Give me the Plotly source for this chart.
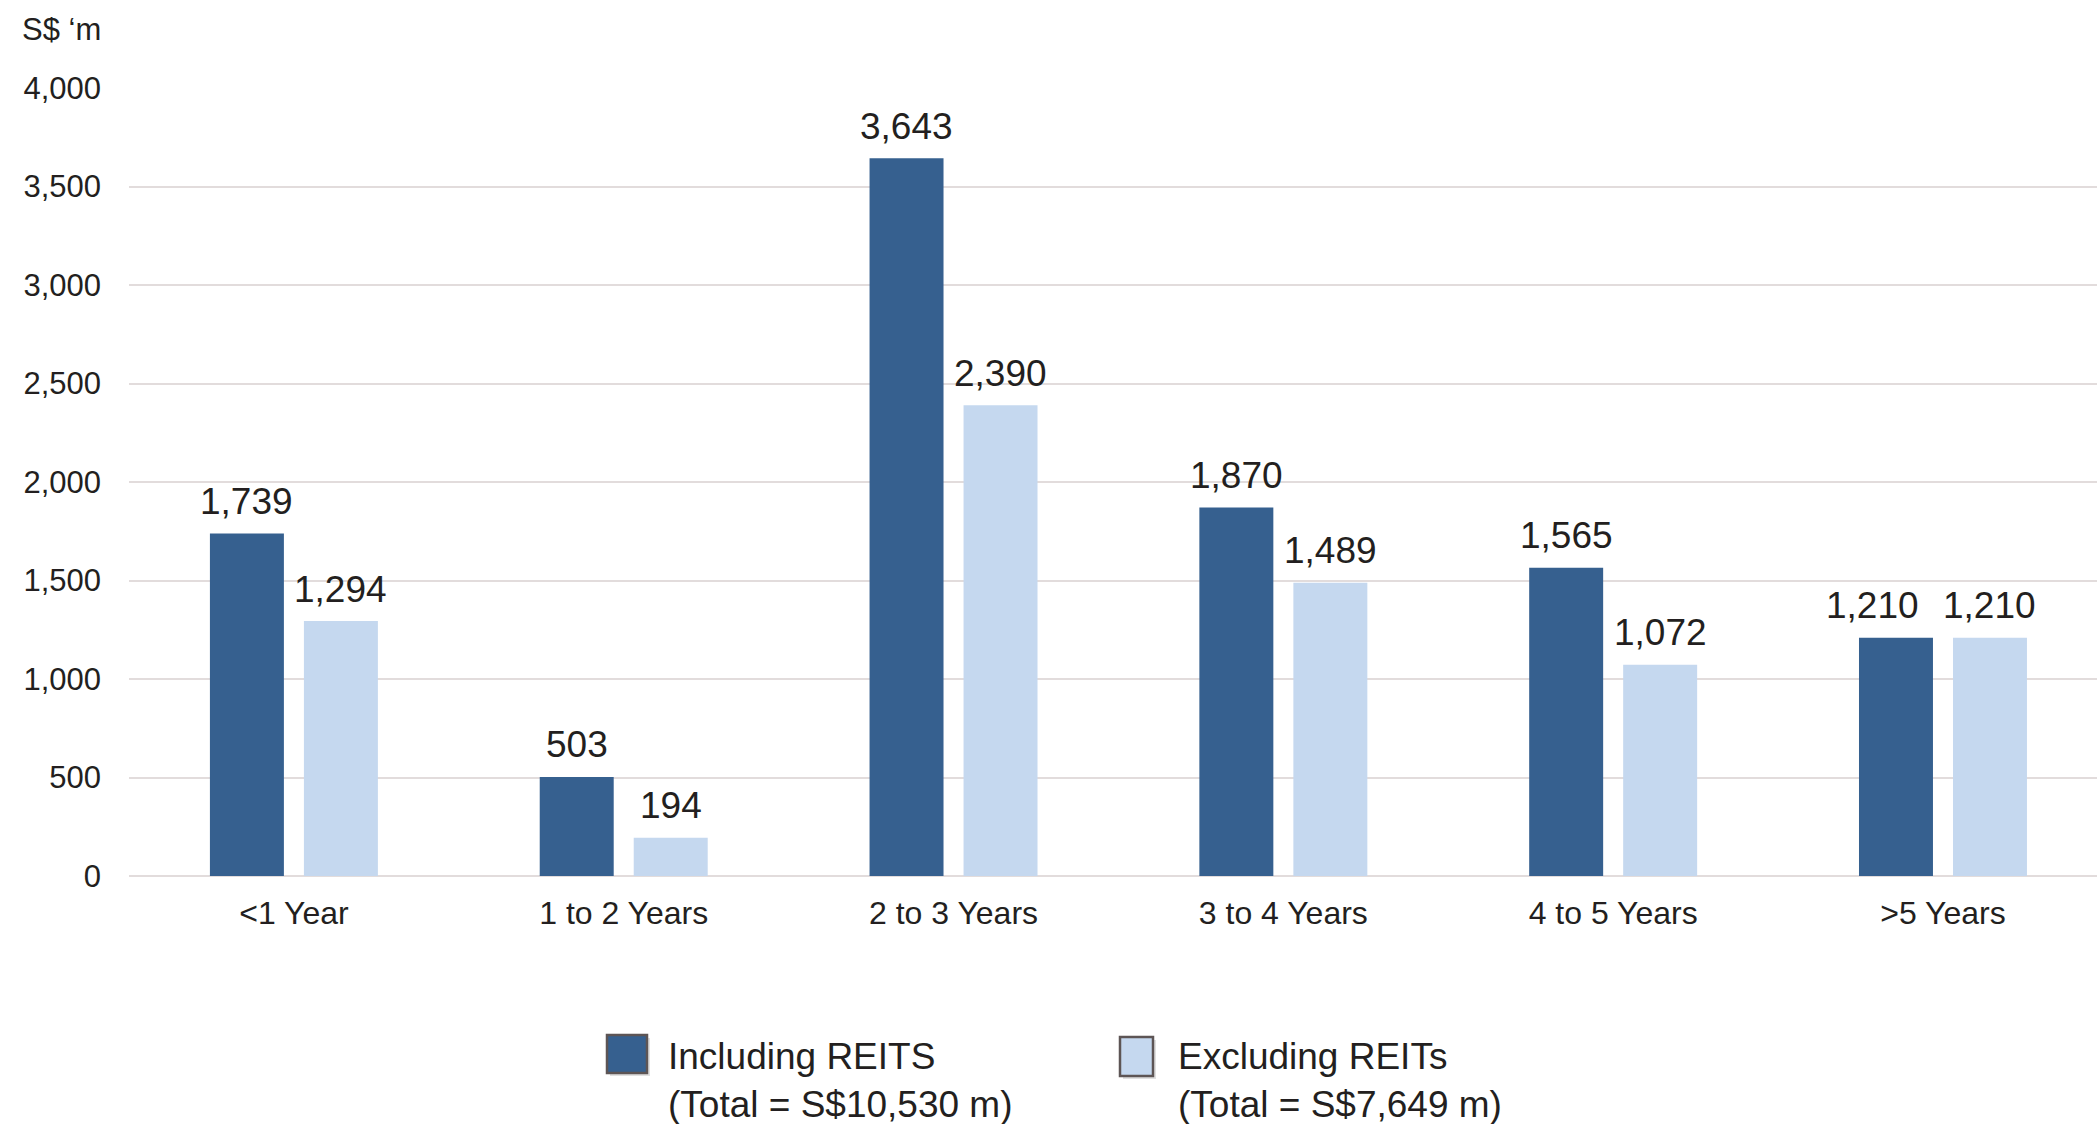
import plotly.graph_objects as go

# Debt maturity profile (S$ million)
categories = ["<1 Year", "1 to 2 Years", "2 to 3 Years", "3 to 4 Years", "4 to 5 Years", ">5 Years"]
including_reits = [1739, 503, 3643, 1870, 1565, 1210]
excluding_reits = [1294, 194, 2390, 1489, 1072, 1210]
series_names = ["Including REITS", "Excluding REITs"]
y_ticks = [0, 500, 1000, 1500, 2000, 2500, 3000, 3500, 4000]
y_unit = "S$ \u2018m"

DARK = "#36608f"
LIGHT = "#c5d8ef"
TEXT = "#231f20"
GRID = "#e2dcdc"
FONT = "Liberation Sans, Arial, sans-serif"

W, H = 2097, 1124
ML, MR, MT, MB = 129, 0, 88, 248
PW, PH = W - ML - MR, H - MT - MB


def px_x(px):
    return (px - ML) / PW


def px_y(py):
    return (H - MB - py) / PH


fig = go.Figure()
for name, vals, col in [(series_names[0], including_reits, DARK),
                        (series_names[1], excluding_reits, LIGHT)]:
    fig.add_trace(go.Bar(x=categories, y=vals, name=name, marker_color=col,
                         marker_line_width=0, showlegend=False))

# value labels above each bar; side-by-side labels of equal height are
# pushed apart a little so they don't run into each other
for si, (vals, other, shift) in enumerate([(including_reits, excluding_reits, -47),
                                           (excluding_reits, including_reits, 47)]):
    for c, v, o in zip(categories, vals, other):
        nudge = -23 if (si == 0 and v == o) else 0
        fig.add_annotation(x=c, y=v, text=f"{v:,}", showarrow=False,
                           xshift=shift + nudge, yshift=32, yanchor="middle",
                           font=dict(size=37, color=TEXT, family=FONT))

# unit label
fig.add_annotation(xref="paper", yref="paper", x=px_x(20), y=px_y(30),
                   xanchor="left", yanchor="middle", text=y_unit, showarrow=False,
                   font=dict(size=31, color=TEXT, family=FONT))

# legend: swatches and two-line labels with totals
legend_items = [
    (series_names[0], sum(including_reits), DARK, (607, 647, 1035, 1073), 666),
    (series_names[1], sum(excluding_reits), LIGHT, (1120, 1153, 1037, 1076), 1176),
]
for name, total, col, (x0, x1, y0, y1), tx in legend_items:
    fig.add_shape(type="rect", xref="paper", yref="paper",
                  x0=px_x(x0 + 3), x1=px_x(x1 + 3), y0=px_y(y1 + 3), y1=px_y(y0 + 3),
                  fillcolor="rgba(0,0,0,0.12)", line_width=0, layer="above")
    fig.add_shape(type="rect", xref="paper", yref="paper",
                  x0=px_x(x0), x1=px_x(x1), y0=px_y(y1), y1=px_y(y0),
                  fillcolor=col, line=dict(color="#5d5555", width=2.5), layer="above")
    fig.add_annotation(xref="paper", yref="paper", x=px_x(tx), y=px_y(1080),
                       xanchor="left", yanchor="middle", align="left", showarrow=False,
                       text=f"{name}<br>(Total = S${total:,} m)",
                       font=dict(size=37, color=TEXT, family=FONT))

fig.update_layout(
    width=W, height=H,
    margin=dict(l=ML, r=MR, t=MT, b=MB, pad=0),
    paper_bgcolor="white", plot_bgcolor="white",
    barmode="group", bargap=0.43, bargroupgap=0.213,
    font=dict(family=FONT, color=TEXT),
    xaxis=dict(range=[-0.5, 5.467], showgrid=False, zeroline=False, showline=False,
               ticks="", tickfont=dict(size=32, color=TEXT), ticklabelstandoff=15),
    yaxis=dict(range=[0, 4000], tickvals=y_ticks, tickformat=",d",
               showgrid=True, gridcolor=GRID, gridwidth=1.5, zeroline=True,
               zerolinecolor=GRID, zerolinewidth=1.5, showline=False, ticks="",
               tickfont=dict(size=31, color=TEXT), ticklabelstandoff=27),
)

fig.write_html("out.html")
